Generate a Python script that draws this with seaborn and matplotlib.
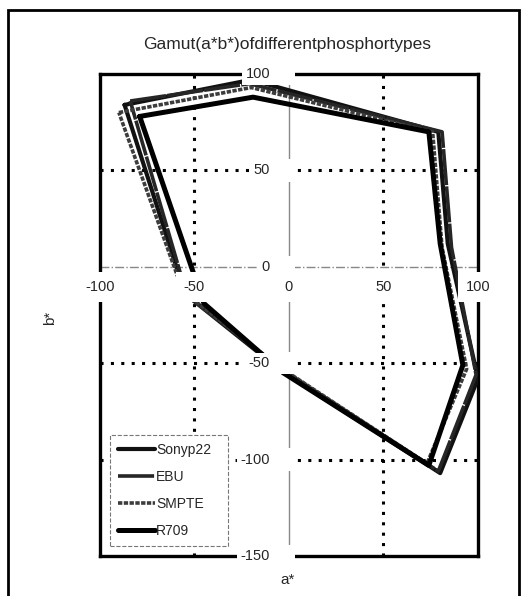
import numpy as np
import pandas as pd
import matplotlib
matplotlib.use("Agg")
import matplotlib.pyplot as plt
import seaborn as sns
from matplotlib.patches import Rectangle

# gamut boundary vertices (G, Y, R, side, M, B, kink, C), a* and b*
SERIES = ["Sonyp22", "EBU", "SMPTE", "R709"]
sony_a = [-87, -20, 79, 84, 100, 80, -4, -55]
sony_b = [84, 97, 70, 12, -58, -107, -54, -14]
ebu_a = [-84, -21, 81, 86, 99, 79, -4, -54]
ebu_b = [86, 95, 70, 10, -56, -106, -53, -15]
smpte_a = [-90, -20, 76, 81, 94, 73, -5, -56]
smpte_b = [80, 93, 70, 10, -53, -102, -52, -13]
r709_a = [-79, -19, 74, 80, 92, 74, -3, -45]
r709_b = [78, 88, 70, 12, -51, -103, -55, -19]

X_TICKS = [-100, -50, 0, 50, 100]
X_LABELS = ["-100", "-50", "0", "50", "100"]
Y_TICKS = [100, 50, 0, -50, -100, -150]
Y_LABELS = ["100", "50", "0", "-50", "-100", "-150"]
X_GRID = [-50, 50]
Y_GRID = [50, -50, -100]

sns.set_style("white")
plt.rcParams['font.family'] = ['Liberation Sans', 'DejaVu Sans']

fig = plt.figure(figsize=(5.24, 5.96), dpi=100)
ax = fig.add_axes([0.1908, 0.0671, 0.7214, 0.8087])
ax.set_xlim(-100, 100)
ax.set_ylim(-150, 100)
ax.set_xticks([])
ax.set_yticks([])

# dotted grid and the zero axes
dot = (0, (1, 2.4))
for g in X_GRID:
    ax.axvline(g, color='black', lw=2.2, linestyle=dot, zorder=1)
for g in Y_GRID:
    ax.axhline(g, color='black', lw=2.2, linestyle=dot, zorder=1)
ax.axhline(0, color='#888888', lw=1, linestyle='-.', zorder=1)
ax.axvline(0, color='#888888', lw=1, zorder=1)

styles = {
    "Sonyp22": dict(color='#111111', linewidth=3.0, linestyle='-'),
    "EBU": dict(color='#262626', linewidth=2.6, linestyle=(0, (10, 0.35))),
    "SMPTE": dict(color='#3c3c3c', linewidth=2.6, linestyle=(0, (1.2, 0.4))),
    "R709": dict(color='black', linewidth=3.6, linestyle='-'),
}
coords = {"Sonyp22": (sony_a, sony_b), "EBU": (ebu_a, ebu_b),
          "SMPTE": (smpte_a, smpte_b), "R709": (r709_a, r709_b)}

for name in SERIES:
    a, b = coords[name]
    df = pd.DataFrame({'a': a + a[:1], 'b': b + b[:1]})
    sns.lineplot(data=df, x='a', y='b', sort=False, estimator=None, ax=ax,
                 label=name, zorder=3, **styles[name])

for sp in ax.spines.values():
    sp.set_color('black')
    sp.set_linewidth(2.4)

# tick labels on the zero axes, white boxes break the lines
for v, lab in zip(Y_TICKS, Y_LABELS):
    ax.add_patch(Rectangle((-12, v - 5.8), 15, 11.6, fc='white', ec='none',
                           zorder=6, clip_on=False))
    ax.text(-10, v, lab, ha='right', va='center', fontsize=10.5, zorder=7,
            clip_on=False,
            bbox=dict(fc='white', ec='none', pad=2.5))
for v, lab in zip(X_TICKS, X_LABELS):
    ax.text(v, -10.5, lab, ha='center', va='center', fontsize=10.5, zorder=7,
            clip_on=False,
            bbox=dict(fc='white', ec='none', pad=5.5))

leg = ax.legend(loc='upper left', bbox_to_anchor=(0.0265, 0.0, 0.312, 0.251),
                mode='expand', borderaxespad=0, fontsize=10, handlelength=2.7,
                handletextpad=0.05, labelspacing=0.95, borderpad=0.55,
                fancybox=False, framealpha=1)
leg.get_frame().set_edgecolor('#777777')
leg.get_frame().set_linewidth(0.8)
leg.get_frame().set_linestyle('--')
leg.set_zorder(8)

ax.set_xlabel("")
ax.set_ylabel("")
fig.text(0.548, 0.027, "a*", ha='center', va='center', fontsize=11)
fig.text(0.095, 0.466, "b*", ha='center', va='center', fontsize=11, rotation=90)
fig.text(0.548, 0.926, "Gamut(a*b*)ofdifferentphosphortypes", ha='center',
         va='center', fontsize=12.5)

fig.patches.append(Rectangle((8 / 524, -0.02), 511 / 524, 1.0032,
                             transform=fig.transFigure, fill=False,
                             ec='black', lw=2))

fig.savefig("out.png", dpi=100)
